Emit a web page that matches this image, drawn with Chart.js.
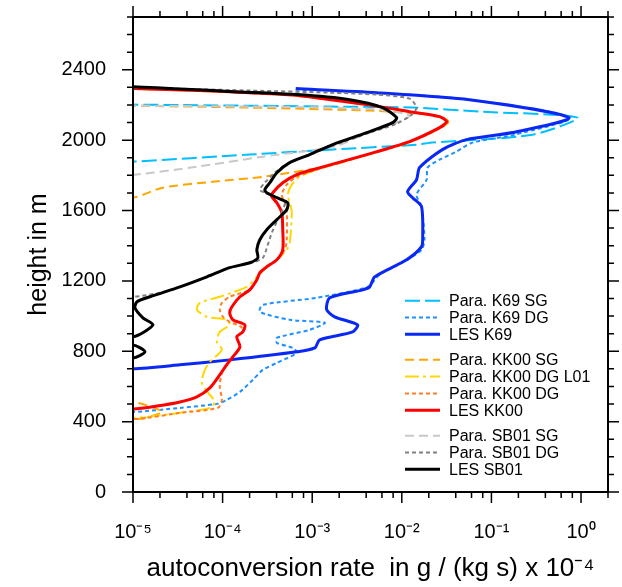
<!DOCTYPE html>
<html>
<head>
<meta charset="utf-8">
<title>Autoconversion rate profiles</title>
<script src="https://cdn.jsdelivr.net/npm/chart.js@4.4.0/dist/chart.umd.min.js"></script>
<style>
  html, body { margin: 0; padding: 0; background: #fff; }
  canvas { display: block; }
</style>
</head>
<body>
<canvas id="chart" width="622" height="587"></canvas>
<script>
// Profiles as [height in m, autoconversion rate in g/(kg s) x 1e-4]

// K69
const paraK69SG = [
  [2205, 1e-6], [2202, 1e-5], [2191, 1.57e-3], [2185, 1.32e-2], [2162, 7.4e-2], [2128, 0.91],
  [2031, 0.286], [1986, 2.2e-2], [1974, 1.46e-2], [1946, 1.57e-3], [1918, 2.0e-4], [1878, 1e-5], [1860, 1e-6]
];
const paraK69DG = [
  [2287, 6.55e-4], [2270, 5.24e-3], [2230, 5.7e-2], [2128, 0.76], [2031, 0.181], [1986, 6.15e-2],
  [1935, 4.07e-2], [1889, 2.64e-2], [1844, 1.94e-2], [1775, 1.89e-2], [1690, 1.46e-2], [1622, 1.66e-2],
  [1434, 1.79e-2], [1377, 1.66e-2], [1320, 1.16e-2], [1235, 5.65e-3], [1166, 4.16e-3], [1104, 1.12e-3],
  [1064, 2.81e-4], [1024, 2.6e-4], [979, 5.62e-4], [962, 1.38e-3], [922, 9.38e-4], [876, 4.03e-4],
  [848, 4.03e-4], [819, 6.07e-4], [791, 6.73e-4], [734, 4.03e-4], [694, 2.81e-4], [637, 2.17e-4],
  [569, 1.56e-4], [523, 1.11e-4], [501, 8.63e-5], [478, 3.34e-5], [455, 1e-5], [445, 1e-6]
];
const lesK69 = [
  [2293, 6.55e-4], [2270, 5.24e-3], [2230, 5.69e-2], [2128, 0.73], [2043, 0.172], [2003, 5.27e-2],
  [1946, 2.84e-2], [1844, 1.58e-2], [1775, 1.46e-2], [1707, 1.16e-2], [1673, 1.32e-2], [1622, 1.66e-2],
  [1445, 1.71e-2], [1394, 1.66e-2], [1320, 1.13e-2], [1223, 4.98e-3], [1166, 4.38e-3], [1149, 3.66e-3],
  [1104, 1.57e-3], [1036, 1.45e-3], [996, 1.78e-3], [950, 3.21e-3], [910, 2.83e-3], [865, 1.21e-3],
  [819, 1.07e-3], [797, 6.73e-4], [751, 1.2e-4], [723, 3.34e-5], [700, 1e-5], [690, 1e-6]
];

// KK00
const paraKK00SG = [
  [2205, 1e-6], [2196, 1e-5], [2185, 2.0e-4], [2168, 4.4e-3], [2151, 1.58e-2], [2134, 2.64e-2],
  [2105, 3.24e-2], [2071, 2.7e-2], [1992, 1.25e-2], [1918, 4.1e-3], [1855, 1.57e-3], [1792, 2.81e-4],
  [1764, 7.8e-5], [1730, 2.16e-5], [1673, 1e-5], [1640, 1e-6], [530, 1e-6], [512, 1e-5],
  [455, 2.1e-5], [410, 1e-5], [400, 1e-6]
];
const paraKK00DGL01 = [
  [2300, 1e-6], [2291, 1e-5], [2280, 5.6e-5], [2268, 2.0e-4], [2250, 7.3e-4], [2200, 4.1e-3],
  [2160, 1.25e-2], [2132, 2.7e-2], [2105, 3.3e-2], [2071, 2.75e-2], [1992, 1.27e-2], [1918, 4.2e-3],
  [1838, 1.2e-3], [1792, 7.26e-4], [1747, 5.92e-4], [1690, 5.33e-4], [1644, 5.62e-4], [1588, 5.92e-4],
  [1417, 5.62e-4], [1377, 5.2e-4], [1320, 4.03e-4], [1280, 3.11e-4], [1223, 2.41e-4], [1166, 1.86e-4],
  [1110, 9.3e-5], [1075, 5.58e-5], [1036, 5.16e-5], [996, 6.68e-5], [979, 1.11e-4], [950, 1.2e-4],
  [910, 9.3e-5], [854, 8.63e-5], [808, 9.82e-5], [740, 7.21e-5], [694, 6.34e-5], [620, 5.87e-5],
  [552, 7.21e-5], [512, 8.2e-5], [478, 7.21e-5], [450, 3.34e-5], [427, 1.43e-5], [421, 1e-5], [410, 1e-6]
];
const paraKK00DG = [
  [2300, 1e-6], [2292, 1e-5], [2281, 5.6e-5], [2269, 2.0e-4], [2252, 7.3e-4], [2201, 4.1e-3],
  [2161, 1.23e-2], [2133, 2.66e-2], [2105, 3.3e-2], [2071, 2.75e-2], [1992, 1.27e-2], [1918, 4.2e-3],
  [1832, 1.12e-3], [1792, 6.73e-4], [1747, 5.2e-4], [1690, 4.57e-4], [1644, 4.94e-4], [1588, 5.2e-4],
  [1434, 5.2e-4], [1377, 4.94e-4], [1320, 4.03e-4], [1280, 3.11e-4], [1246, 2.6e-4], [1206, 2.41e-4],
  [1149, 2.01e-4], [1110, 1.2e-4], [1075, 9.82e-5], [1036, 9.3e-5], [996, 1.01e-4], [967, 1.2e-4],
  [940, 1.6e-4], [910, 1.68e-4], [882, 1.44e-4], [825, 1.56e-4], [768, 1.3e-4], [751, 1.2e-4],
  [677, 9.82e-5], [597, 9.3e-5], [523, 9.82e-5], [478, 8.85e-5], [450, 3.34e-5], [421, 1.43e-5],
  [415, 1e-5], [405, 1e-6]
];
const lesKK00 = [
  [2300, 1e-6], [2293, 1e-5], [2282, 5.58e-5], [2270, 2.01e-4], [2253, 7.26e-4], [2202, 4.06e-3],
  [2162, 1.22e-2], [2134, 2.64e-2], [2105, 3.16e-2], [2071, 2.64e-2], [1992, 1.22e-2], [1918, 4.06e-3],
  [1838, 1.12e-3], [1804, 6.73e-4], [1758, 4.69e-4], [1701, 3.63e-4], [1679, 3.54e-4], [1644, 4.03e-4],
  [1588, 4.57e-4], [1491, 4.69e-4], [1377, 4.69e-4], [1320, 4.03e-4], [1280, 3.11e-4], [1246, 2.6e-4],
  [1206, 2.41e-4], [1149, 2.01e-4], [1110, 1.56e-4], [1053, 1.27e-4], [1019, 1.2e-4], [979, 1.3e-4],
  [950, 1.77e-4], [910, 1.68e-4], [882, 1.44e-4], [825, 1.56e-4], [768, 1.3e-4], [723, 1.11e-4],
  [666, 9.3e-5], [592, 7.21e-5], [541, 5.16e-5], [512, 3.34e-5], [489, 1.85e-5], [472, 1e-5], [462, 1e-6]
];

// SB01
const paraSB01SG = [
  [2205, 1e-6], [2196, 1e-5], [2191, 2.0e-4], [2185, 1.57e-3], [2173, 5.65e-3], [2151, 1.07e-2],
  [2139, 1.22e-2], [2128, 1.16e-2], [2094, 8.3e-3], [2037, 4.1e-3], [1974, 2.03e-3], [1957, 1.57e-3],
  [1906, 2.81e-4], [1849, 5.16e-5], [1804, 1e-5], [1790, 1e-6]
];
const paraSB01DG = [
  [2310, 1e-6], [2299, 1e-5], [2282, 2.0e-4], [2270, 1.57e-3], [2259, 5.24e-3], [2236, 1.22e-2],
  [2185, 1.46e-2], [2145, 1.29e-2], [2094, 8.8e-3], [2037, 4.06e-3], [1969, 1.69e-3], [1918, 9.4e-4],
  [1872, 5.62e-4], [1815, 3.82e-4], [1758, 2.96e-4], [1718, 2.6e-4], [1701, 2.96e-4], [1673, 4.03e-4],
  [1644, 4.94e-4], [1605, 4.69e-4], [1536, 4.03e-4], [1474, 3.54e-4], [1405, 3.19e-4], [1331, 2.81e-4],
  [1303, 2.12e-4], [1275, 1.2e-4], [1223, 6.7e-5], [1166, 3.34e-5], [1132, 2.0e-5], [1110, 1e-5], [1100, 1e-6]
];
const lesSB01 = [
  [2310, 1e-6], [2304, 1e-5], [2276, 1.2e-4], [2259, 6.73e-4], [2230, 2.62e-3], [2185, 6.1e-3],
  [2128, 8.75e-3], [2100, 7.9e-3], [2043, 4.06e-3], [1975, 1.69e-3], [1918, 9.38e-4], [1872, 5.61e-4],
  [1815, 4.03e-4], [1758, 3.37e-4], [1718, 2.96e-4], [1701, 3.11e-4], [1673, 4.03e-4], [1644, 5.33e-4],
  [1605, 5.2e-4], [1548, 4.03e-4], [1491, 3.11e-4], [1434, 2.6e-4], [1377, 2.41e-4], [1331, 2.47e-4],
  [1303, 2.01e-4], [1275, 1.2e-4], [1223, 6.68e-5], [1166, 3.34e-5], [1110, 1.55e-5], [1081, 1.11e-5],
  [1047, 1.05e-5], [990, 1.29e-5], [950, 1.67e-5], [882, 1e-5], [870, 1e-6], [845, 1e-6],
  [836, 1e-5], [797, 1.36e-5], [762, 1e-5], [750, 1e-6]
];

// axis ticks
const heightTicks = [0, 400, 800, 1200, 1600, 2000, 2400];
const rateTicks = [1e-5, 1e-4, 1e-3, 1e-2, 1e-1, 1];
const rateTickLabels = ['10⁻⁵', '10⁻⁴', '10⁻³', '10⁻²', '10⁻¹', '10⁰'];

const FONT = '"Liberation Sans", Arial, Helvetica, sans-serif';

const series = [
  { label: 'Para. K69 SG', data: paraK69SG, color: '#00BFFF', width: 2, dash: [15, 5] },
  { label: 'Para. K69 DG', data: paraK69DG, color: '#1E90FF', width: 2, dash: [4, 3] },
  { label: 'LES K69', data: lesK69, color: '#0A28F5', width: 3, dash: [] },
  { label: 'Para. KK00 SG', data: paraKK00SG, color: '#FFA500', width: 2, dash: [9, 5] },
  { label: 'Para. KK00 DG L01', data: paraKK00DGL01, color: '#FFD700', width: 2, dash: [14, 4, 3, 4] },
  { label: 'Para. KK00 DG', data: paraKK00DG, color: '#FF7F24', width: 2, dash: [4, 3] },
  { label: 'LES KK00', data: lesKK00, color: '#FF0000', width: 3, dash: [] },
  { label: 'Para. SB01 SG', data: paraSB01SG, color: '#C8C8C8', width: 2, dash: [9, 5] },
  { label: 'Para. SB01 DG', data: paraSB01DG, color: '#808080', width: 2, dash: [4, 3] },
  { label: 'LES SB01', data: lesSB01, color: '#000000', width: 3, dash: [] }
];

// frame with outward ticks on all four sides
const frameTicks = {
  id: 'frameTicks',
  afterDatasetsDraw(chart) {
    const { ctx, chartArea: a, scales: { x, y } } = chart;
    ctx.save();
    ctx.strokeStyle = '#000';
    ctx.lineWidth = 1.5;
    ctx.beginPath();
    for (let h = 0; h <= y.max; h += 100) {
      const py = y.getPixelForValue(h);
      const len = h % 400 === 0 ? 11 : 6;
      ctx.moveTo(a.left - len, py); ctx.lineTo(a.left, py);
      ctx.moveTo(a.right, py); ctx.lineTo(a.right + len, py);
    }
    rateTicks.forEach(d => {
      [1, 2, 4, 6, 8].forEach(m => {
        const v = d * m;
        if (v > x.max) return;
        const px = x.getPixelForValue(v);
        const len = m === 1 ? 11 : 6;
        ctx.moveTo(px, a.bottom); ctx.lineTo(px, a.bottom + len);
        ctx.moveTo(px, a.top - len); ctx.lineTo(px, a.top);
      });
    });
    ctx.stroke();
    ctx.lineWidth = 2;
    ctx.strokeRect(a.left, a.top, a.right - a.left, a.bottom - a.top);
    ctx.restore();
  }
};

// grouped legend inside the plot
const groupLegend = {
  id: 'groupLegend',
  afterDraw(chart) {
    const ctx = chart.ctx;
    ctx.save();
    ctx.font = '16px ' + FONT;
    ctx.textBaseline = 'middle';
    ctx.fillStyle = '#000';
    chart.data.datasets.forEach((ds, i) => {
      const group = i < 3 ? 0 : (i < 7 ? 1 : 2);
      const yy = 300.7 + i * 16.8 + group * 8.7;
      ctx.strokeStyle = ds.borderColor;
      ctx.lineWidth = ds.borderWidth;
      ctx.setLineDash(ds.borderDash);
      ctx.beginPath();
      ctx.moveTo(405, yy);
      ctx.lineTo(440, yy);
      ctx.stroke();
      ctx.setLineDash([]);
      ctx.fillText(ds.label, 449, yy + 1);
    });
    ctx.restore();
  }
};

const whiteBg = {
  id: 'whiteBg',
  beforeDraw(chart) {
    const ctx = chart.ctx;
    ctx.save();
    ctx.fillStyle = '#fff';
    ctx.fillRect(0, 0, chart.width, chart.height);
    ctx.restore();
  }
};

new Chart(document.getElementById('chart'), {
  type: 'scatter',
  data: {
    datasets: series.map((s, i) => ({
      label: s.label,
      data: s.data.map(([h, v]) => ({ x: v, y: h })),
      showLine: true,
      borderColor: s.color,
      backgroundColor: s.color,
      borderWidth: s.width,
      borderDash: s.dash,
      borderJoinStyle: 'round',
      pointRadius: 0,
      tension: 0.25,
      fill: false,
      order: series.length - i
    }))
  },
  options: {
    responsive: false,
    animation: false,
    events: [],
    layout: { padding: { left: 0, top: 17, right: 14, bottom: 0 } },
    plugins: {
      legend: { display: false },
      tooltip: { enabled: false }
    },
    scales: {
      x: {
        type: 'logarithmic',
        min: 1e-5,
        max: 2,
        afterBuildTicks: s => { s.ticks = rateTicks.map(v => ({ value: v })); },
        afterFit: s => { s.height = 95; },
        grid: { display: false },
        border: { display: false },
        ticks: {
          autoSkip: false,
          maxRotation: 0,
          padding: 20,
          color: '#000',
          font: { family: FONT, size: 20 },
          callback: (v, i) => rateTickLabels[i]
        },
        title: {
          display: true,
          text: 'autoconversion rate  in g / (kg s) x 10⁻⁴',
          color: '#000',
          font: { family: FONT, size: 26 },
          padding: { top: 0, bottom: 3 }
        }
      },
      y: {
        type: 'linear',
        min: 0,
        max: 2700,
        afterBuildTicks: s => { s.ticks = heightTicks.map(v => ({ value: v })); },
        // labels sit far from the frame, so drop the label overhang padding
        afterFit: s => { s.width = 133; s.paddingTop = 0; s.paddingBottom = 0; },
        grid: { display: false },
        border: { display: false },
        ticks: {
          padding: 19,
          color: '#000',
          font: { family: FONT, size: 20 },
          callback: v => String(v)
        },
        title: {
          display: true,
          text: 'height in m',
          color: '#000',
          font: { family: FONT, size: 25 },
          padding: { top: 24, bottom: 0 }
        }
      }
    }
  },
  plugins: [whiteBg, frameTicks, groupLegend]
});
</script>
</body>
</html>
